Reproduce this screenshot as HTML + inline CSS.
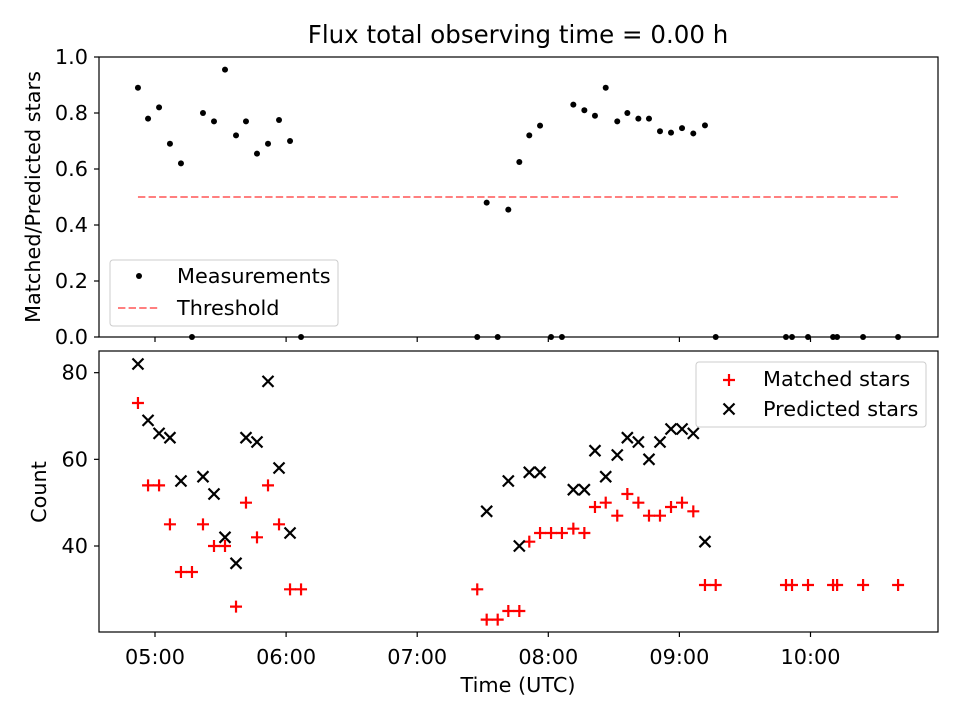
<!DOCTYPE html>
<html><head><meta charset="utf-8"><style>
html,body{margin:0;padding:0;background:#fff}
svg{display:block;font-family:"DejaVu Sans","Liberation Sans",sans-serif}
</style></head><body>
<svg id="chart" width="960" height="720" viewBox="0 0 960 720" xmlns="http://www.w3.org/2000/svg">
<rect width="960" height="720" fill="#fff"/>
<text x="518" y="43" font-size="24.5" text-anchor="middle">Flux total observing time = 0.00 h</text>
<g id="topAxes"></g><g id="botAxes"></g>
</svg>
<script>
const ratioTimes=[4.870,4.947,5.031,5.114,5.198,5.282,5.366,5.450,5.534,5.618,5.694,5.778,5.862,5.946,6.030,6.114,7.458,7.530,7.614,7.695,7.779,7.855,7.937,8.021,8.104,8.191,8.275,8.356,8.438,8.526,8.603,8.687,8.768,8.852,8.936,9.020,9.106,9.195,9.277,9.813,9.859,9.981,10.172,10.203,10.401,10.668];
const ratioValues=[0.89,0.78,0.82,0.69,0.62,0,0.80,0.77,0.955,0.72,0.77,0.655,0.69,0.775,0.70,0,0,0.48,0,0.455,0.625,0.72,0.755,0,0,0.83,0.81,0.79,0.89,0.77,0.80,0.78,0.78,0.735,0.73,0.746,0.727,0.756,0,0,0,0,0,0,0,0];
const matchedTimes=ratioTimes;
const matchedValues=[73,54,54,45,34,34,45,40,40,26,50,42,54,45,30,30,30,23,23,25,25,41,43,43,43,44,43,49,50,47,52,50,47,47,49,50,48,31,31,31,31,31,31,31,31,31];
const predictedTimes=[4.870,4.947,5.031,5.114,5.198,5.366,5.450,5.534,5.618,5.694,5.778,5.862,5.946,6.030,7.530,7.695,7.779,7.855,7.937,8.191,8.275,8.356,8.438,8.526,8.603,8.687,8.768,8.852,8.936,9.020,9.106,9.195];
const predictedValues=[82,69,66,65,55,56,52,42,36,65,64,78,58,43,48,55,40,57,57,53,53,62,56,61,65,64,60,64,67,67,66,41];
const thresholdValue=0.5, thresholdStart=4.870, thresholdEnd=10.668;
const xTickHours=[5,6,7,8,9,10];
const xTickLabels=["05:00","06:00","07:00","08:00","09:00","10:00"];
const topTicks=[0,0.2,0.4,0.6,0.8,1.0];
const botTicks=[40,60,80];

const NS="http://www.w3.org/2000/svg";
const L=99,R=938,FS=20.8;
const X=h=>155+(h-5)*131.1;
const Yt=v=>337-v*280;
const Yb=v=>546-(v-40)*4.333;
function mk(p,tag,at){const e=document.createElementNS(NS,tag);for(const k in at)e.setAttribute(k,at[k]);p.appendChild(e);return e;}
const gTop=document.getElementById('topAxes'), gBot=document.getElementById('botAxes');

let th=mk(gTop,'line',{x1:X(thresholdStart),x2:X(thresholdEnd),y1:Yt(thresholdValue),y2:Yt(thresholdValue),stroke:'#ff7f7f','stroke-width':2,'stroke-dasharray':'7.4,3.2'});


ratioTimes.forEach((t,i)=>{
  const c=mk(gTop,'circle',{cx:X(t),cy:Yt(ratioValues[i]),r:3,fill:'#000'});
  
  
});
matchedTimes.forEach((t,i)=>{
  const x=X(t),y=Yb(matchedValues[i]);
  const p=mk(gBot,'path',{d:`M${x-6} ${y}H${x+6}M${x} ${y-6}V${y+6}`,stroke:'#f00','stroke-width':2.2,fill:'none'});
  
  
});
predictedTimes.forEach((t,i)=>{
  const x=X(t),y=Yb(predictedValues[i]);
  const p=mk(gBot,'path',{d:`M${x-5.5} ${y-5.5}L${x+5.5} ${y+5.5}M${x-5.5} ${y+5.5}L${x+5.5} ${y-5.5}`,stroke:'#000','stroke-width':2.2,fill:'none'});
  
  
});
[[gTop,57,337],[gBot,351,632]].forEach(([g,t,b])=>{
  const f=mk(g,'rect',{x:L,y:t,width:R-L,height:b-t,fill:'none',stroke:'#000','stroke-width':1.2});
  
  
  xTickHours.forEach(h=>{mk(g,'line',{x1:X(h),x2:X(h),y1:b,y2:b+5,stroke:'#000','stroke-width':1.2});});
});
xTickHours.forEach((h,i)=>{
  const tx=mk(gBot,'text',{x:X(h),y:664,'font-size':FS,'text-anchor':'middle'});tx.textContent=xTickLabels[i];
  
  
});
topTicks.forEach(v=>{
  mk(gTop,'line',{x1:L-5,x2:L,y1:Yt(v),y2:Yt(v),stroke:'#000','stroke-width':1.2});
  const tx=mk(gTop,'text',{x:L-11,y:Yt(v)+7,'font-size':FS,'text-anchor':'end'});tx.textContent=v.toFixed(1);
  
  
});
botTicks.forEach(v=>{
  mk(gBot,'line',{x1:L-5,x2:L,y1:Yb(v),y2:Yb(v),stroke:'#000','stroke-width':1.2});
  const tx=mk(gBot,'text',{x:L-11,y:Yb(v)+7,'font-size':FS,'text-anchor':'end'});tx.textContent=v;
  
  
});
let t;
t=mk(gTop,'text',{x:0,y:0,'font-size':FS,'text-anchor':'middle',transform:'translate(40,197) rotate(-90)'});t.textContent='Matched/Predicted stars';


t=mk(gBot,'text',{x:0,y:0,'font-size':FS,'text-anchor':'middle',transform:'translate(46,492) rotate(-90)'});t.textContent='Count';


t=mk(gBot,'text',{x:518,y:692,'font-size':FS,'text-anchor':'middle'});t.textContent='Time (UTC)';


let lg=mk(gTop,'rect',{x:110,y:260,width:228,height:66,rx:3,fill:'#fff','fill-opacity':0.8,stroke:'#ccc'});


mk(gTop,'circle',{cx:139,cy:276,r:3,fill:'#000'});
t=mk(gTop,'text',{x:177,y:283,'font-size':FS});t.textContent='Measurements';


mk(gTop,'line',{x1:118,x2:160,y1:308,y2:308,stroke:'#ff7f7f','stroke-width':2,'stroke-dasharray':'7.4,3.2'});
t=mk(gTop,'text',{x:177,y:315,'font-size':FS});t.textContent='Threshold';


lg=mk(gBot,'rect',{x:696,y:362,width:230,height:65,rx:3,fill:'#fff','fill-opacity':0.8,stroke:'#ccc'});


mk(gBot,'path',{d:'M723 380H735M729 374V386',stroke:'#f00','stroke-width':2.2});
t=mk(gBot,'text',{x:763,y:386,'font-size':FS});t.textContent='Matched stars';


mk(gBot,'path',{d:'M723.5 403.5L734.5 414.5M723.5 414.5L734.5 403.5',stroke:'#000','stroke-width':2.2});
t=mk(gBot,'text',{x:763,y:416,'font-size':FS});t.textContent='Predicted stars';


</script>
</body></html>
